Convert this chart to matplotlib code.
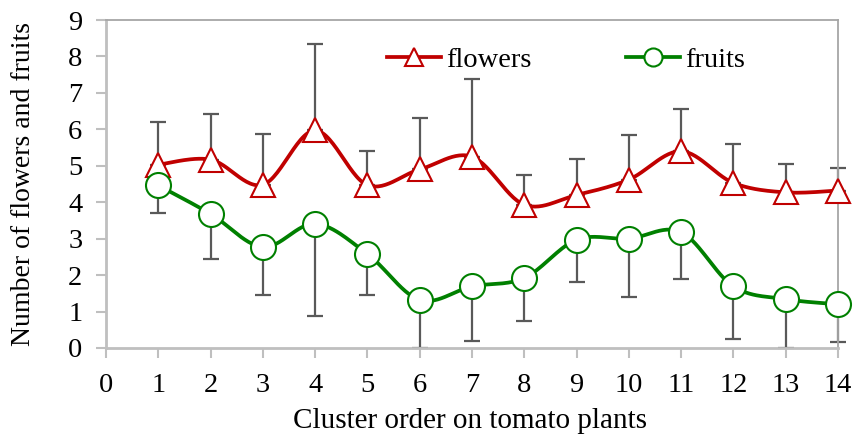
import numpy as np
import matplotlib
matplotlib.use("Agg")
import matplotlib.pyplot as plt
from matplotlib.transforms import IdentityTransform

clusters = [1, 2, 3, 4, 5, 6, 7, 8, 9, 10, 11, 12, 13, 14]
flowers = [5.03, 5.17, 4.48, 5.97, 4.47, 4.9, 5.25, 3.93, 4.2, 4.62, 5.4, 4.53, 4.27, 4.32]
flowers_err_upper = [1.17, 1.26, 1.38, 2.38, 0.93, 1.42, 2.14, 0.81, 0.99, 1.23, 1.15, 1.07, 0.79, 0.63]
fruits = [4.46, 3.68, 2.77, 3.41, 2.58, 1.32, 1.69, 1.92, 2.97, 3.0, 3.18, 1.69, 1.34, 1.2]
fruits_err_lower = [0.76, 1.25, 1.31, 2.53, 1.13, 1.32, 1.5, 1.18, 1.16, 1.6, 1.29, 1.45, 1.33, 1.03]
xticks = list(range(0, 15))
yticks = list(range(0, 10))

plt.rcParams['font.family'] = ['Liberation Serif', 'DejaVu Serif']


def smooth(x, y, n=30):
    x = np.asarray(x, float)
    y = np.asarray(y, float)
    px = np.concatenate([[x[0]], x, [x[-1]]])
    py = np.concatenate([[y[0]], y, [y[-1]]])
    t = np.linspace(0, 1, n)
    xs, ys = [], []
    for i in range(1, len(px) - 2):
        p0 = np.array([px[i], py[i]])
        p3 = np.array([px[i + 1], py[i + 1]])
        p1 = p0 + (np.array([px[i + 1], py[i + 1]]) - np.array([px[i - 1], py[i - 1]])) / 6
        p2 = p3 - (np.array([px[i + 2], py[i + 2]]) - np.array([px[i], py[i]])) / 6
        b = ((1 - t) ** 3)[:, None] * p0 + (3 * (1 - t) ** 2 * t)[:, None] * p1 \
            + (3 * (1 - t) * t ** 2)[:, None] * p2 + (t ** 3)[:, None] * p3
        xs.append(b[:, 0])
        ys.append(b[:, 1])
    return np.concatenate(xs), np.concatenate(ys)


fig = plt.figure(figsize=(8.55, 4.42), dpi=100)
ax = fig.add_axes([0.124, 0.2127, 0.856, 0.742])

red = '#C00000'
green = '#008000'
errc = '#595959'
fs = 20.5

zeros = np.zeros(len(clusters))
ax.errorbar(clusters, flowers, yerr=[zeros, flowers_err_upper], fmt='none',
            ecolor=errc, elinewidth=1.6, capsize=5.5, capthick=1.6, zorder=2, clip_on=False)
ax.errorbar(clusters, fruits, yerr=[fruits_err_lower, zeros], fmt='none',
            ecolor=errc, elinewidth=1.6, capsize=5.5, capthick=1.6, zorder=2, clip_on=False)

sx, sy = smooth(clusters, flowers)
ax.plot(sx, sy, color=red, lw=2.7, zorder=3, clip_on=False)
sx, sy = smooth(clusters, fruits)
ax.plot(sx, sy, color=green, lw=2.7, zorder=3, clip_on=False)

ax.plot(clusters, flowers, ls='none', marker='^', ms=17, mfc='white', mec=red, mew=1.5,
        zorder=4, clip_on=False)
ax.plot(clusters, fruits, ls='none', marker='o', ms=18, mfc='white', mec=green, mew=1.5,
        zorder=4, clip_on=False)

h1, = ax.plot([], [], color=red, lw=2.7, marker='^', ms=13, mfc='white', mec=red, mew=1.5)
h2, = ax.plot([], [], color=green, lw=2.7, marker='o', ms=13, mfc='white', mec=green, mew=1.5)
ax.legend([h1, h2], ['flowers', 'fruits'], loc='center left', bbox_to_anchor=(0.384, 0.878),
          ncol=2, frameon=False, fontsize=fs, handlelength=1.9, handletextpad=0.18,
          columnspacing=3.3, borderpad=0, borderaxespad=0)

ax.set_xlim(0, 14)
ax.set_ylim(0, 9)
ax.set_xticks(xticks)
ax.set_yticks(yticks)
ax.tick_params(axis='both', labelsize=fs, colors='#BFBFBF', labelcolor='black',
               direction='out', length=7, width=1.5)
ax.tick_params(axis='x', pad=11)
ax.tick_params(axis='y', pad=10)

for s in ['left', 'bottom']:
    ax.spines[s].set_color('#BFBFBF')
    ax.spines[s].set_linewidth(2)
for s in ['top', 'right']:
    ax.spines[s].set_color('#A6A6A6')
    ax.spines[s].set_linewidth(1.3)

ax.set_xlabel('Cluster order on tomato plants', fontsize=21)
ax.set_ylabel('Number of flowers and fruits', fontsize=20)
ax.xaxis.set_label_coords(470, 442 - 421, transform=IdentityTransform())
ax.yaxis.set_label_coords(24, 442 - 184, transform=IdentityTransform())
ax.xaxis.label.set_verticalalignment('center')
ax.yaxis.label.set_verticalalignment('center')

fig.savefig('out.png', dpi=100)
